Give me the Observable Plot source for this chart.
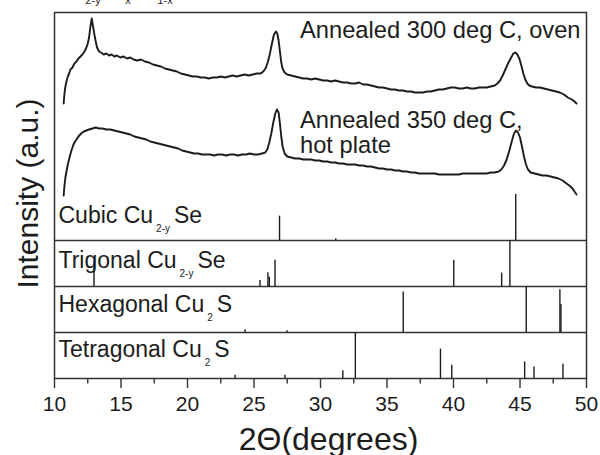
<!DOCTYPE html>
<html>
<head>
<meta charset="utf-8">
<script src="https://cdn.jsdelivr.net/npm/d3@7"></script>
<script src="https://cdn.jsdelivr.net/npm/@observablehq/plot@0.6"></script>
<style>
  body { margin: 0; background: white; }
  #chart svg { display: block; }
</style>
</head>
<body>
<div id="chart"></div>
<script>
// ---------------- data ----------------
const xTicks = [10, 15, 20, 25, 30, 35, 40, 45, 50];
const xMinor = [12.5, 17.5, 22.5, 27.5, 32.5, 37.5, 42.5, 47.5];

// measured pattern: annealed 300 deg C, oven  [2theta, intensity a.u.]
const ovenPattern = [
  [10.69,275],[10.75,285],[10.82,292],[10.9,297],[11.0,302],[11.1,305],[11.2,309],[11.35,311],
  [11.5,315],[11.65,317],[11.8,320],[11.95,322],[12.1,324],[12.25,327],[12.4,331],[12.5,335],
  [12.6,341],[12.7,352],[12.8,360],[12.9,352],[13.0,344],[13.1,337],[13.2,331],[13.35,327],
  [13.5,326],[13.7,324],[13.9,325],[14.1,323],[14.3,324],[14.5,322],[14.7,323],[14.95,321],
  [15.2,322],[15.45,320],[15.7,321],[15.95,319],[16.2,318],[16.5,319],[16.8,317],[17.1,316],
  [17.4,314],[17.7,313],[18.0,312],[18.3,310],[18.6,309],[18.9,308],[19.2,307],[19.5,305],
  [19.8,304],[20.1,303],[20.4,302],[20.7,302],[21.0,301],[21.3,301],[21.6,300],[21.9,301],
  [22.2,301],[22.5,302],[22.8,301],[23.1,302],[23.4,303],[23.7,302],[24.0,303],[24.3,304],
  [24.6,303],[24.9,304],[25.2,305],[25.5,305],[25.7,307],[25.9,311],[26.05,317],[26.2,325],
  [26.35,335],[26.5,344],[26.65,347],[26.75,345],[26.85,338],[26.95,327],[27.05,316],[27.15,310],
  [27.3,306],[27.5,304],[27.8,303],[28.1,302],[28.4,301],[28.7,300],[29.0,300],[29.3,299],
  [29.6,300],[29.9,299],[30.2,298],[30.5,298],[30.8,297],[31.1,298],[31.4,297],[31.7,296],
  [32.0,296],[32.3,295],[32.6,295],[32.9,296],[33.2,294],[33.5,294],[33.8,293],[34.1,292],
  [34.4,291],[34.7,291],[35.0,290],[35.3,289],[35.6,289],[35.9,288],[36.2,288],[36.5,287],
  [36.8,287],[37.1,286],[37.4,286],[37.7,286],[38.0,287],[38.3,287],[38.6,288],[38.9,289],
  [39.2,289],[39.5,290],[39.8,291],[40.1,291],[40.4,290],[40.7,290],[41.0,291],[41.3,290],
  [41.6,290],[41.9,291],[42.2,291],[42.5,291],[42.8,292],[43.1,293],[43.3,295],[43.5,298],
  [43.7,303],[43.9,309],[44.1,315],[44.3,320],[44.5,325],[44.65,326],[44.8,324],[44.95,320],
  [45.1,313],[45.25,305],[45.4,299],[45.55,295],[45.7,293],[45.9,292],[46.2,291],[46.5,291],
  [46.8,290],[47.1,289],[47.4,288],[47.7,287],[48.0,286],[48.3,284],[48.6,281],[48.9,279],
  [49.1,277],[49.25,275]
];

// measured pattern: annealed 350 deg C, hot plate
const hotPlatePattern = [
  [10.69,183],[10.75,193],[10.82,201],[10.9,207],[11.0,214],[11.13,221],[11.25,227],[11.4,233],
  [11.5,236],[11.65,239],[11.8,242],[12.0,245],[12.2,247],[12.4,248],[12.6,249],[12.85,250],
  [13.1,251],[13.35,250],[13.6,250],[13.9,249],[14.2,249],[14.5,248],[14.8,247],[15.1,246],
  [15.4,245],[15.7,244],[16.0,242],[16.3,241],[16.6,240],[16.9,239],[17.2,237],[17.5,236],
  [17.8,235],[18.1,234],[18.4,233],[18.7,232],[19.0,231],[19.3,230],[19.6,228],[19.9,227],
  [20.2,226],[20.5,225],[20.8,225],[21.1,224],[21.4,224],[21.7,224],[22.0,223],[22.3,224],
  [22.6,224],[22.9,223],[23.2,224],[23.5,224],[23.8,223],[24.1,224],[24.4,224],[24.7,225],
  [25.0,224],[25.3,224],[25.6,225],[25.85,226],[26.0,229],[26.15,236],[26.3,245],[26.45,256],
  [26.6,265],[26.72,269],[26.85,266],[26.95,255],[27.05,242],[27.15,232],[27.3,225],[27.5,222],
  [27.8,221],[28.1,220],[28.4,220],[28.7,219],[29.0,219],[29.3,219],[29.6,218],[29.9,218],
  [30.2,217],[30.5,217],[30.8,216],[31.1,216],[31.4,215],[31.7,215],[32.0,214],[32.3,214],
  [32.6,214],[32.9,213],[33.2,213],[33.5,212],[33.8,212],[34.1,211],[34.4,210],[34.7,210],
  [35.0,209],[35.3,209],[35.6,208],[35.9,208],[36.2,207],[36.5,207],[36.8,206],[37.1,206],
  [37.4,205],[37.7,205],[38.0,205],[38.3,205],[38.6,205],[38.9,204],[39.2,204],[39.5,204],
  [39.8,204],[40.1,204],[40.4,204],[40.7,205],[41.0,205],[41.3,205],[41.6,205],[41.9,205],
  [42.2,205],[42.5,205],[42.8,206],[43.1,206],[43.4,207],[43.6,209],[43.8,213],[44.0,219],
  [44.2,228],[44.4,238],[44.55,245],[44.7,248],[44.85,246],[45.0,241],[45.15,232],[45.3,222],
  [45.45,214],[45.6,209],[45.8,206],[46.1,205],[46.4,204],[46.7,203],[47.0,203],[47.3,202],
  [47.6,201],[47.9,200],[48.2,198],[48.5,195],[48.8,192],[49.0,189],[49.15,186],[49.25,184]
];

// reference stick patterns (2theta, relative intensity)
const cubicPos = [26.92, 31.15, 44.68];
const cubicRel = [0.53, 0.04, 1.0];
const trigonalPos = [12.97, 25.45, 26.05, 26.15, 26.58, 40.02, 43.62, 44.24];
const trigonalRel = [0.57, 0.13, 0.30, 0.20, 0.57, 0.57, 0.29, 1.0];
const hexagonalPos = [24.33, 27.48, 36.22, 45.47, 48.0, 48.08];
const hexagonalRel = [0.06, 0.04, 0.88, 1.0, 0.93, 0.61];
const tetragonalPos = [23.58, 27.33, 31.68, 32.62, 39.02, 39.87, 45.35, 46.05, 48.23];
const tetragonalRel = [0.07, 0.07, 0.17, 1.0, 0.64, 0.29, 0.36, 0.25, 0.31];

const phaseNames = ["Cubic Cu_{2-y}Se", "Trigonal Cu_{2-y}Se", "Hexagonal Cu_{2}S", "Tetragonal Cu_{2}S"];
const phaseBase = [138, 92, 46, 0];      // stacking offsets (a.u.)
const phaseLabelY = [156, 111, 67, 22];  // label offsets (a.u.)
const panelScale = 46;                   // a.u. for a 100% stick

const sampleLabels = ["Annealed 300 deg C, oven", "Annealed 350 deg C,", "hot plate"];
const sampleLabelY = [341, 251, 226];

// ---------------- build tables ----------------
const phases = [
  [cubicPos, cubicRel], [trigonalPos, trigonalRel],
  [hexagonalPos, hexagonalRel], [tetragonalPos, tetragonalRel]
];
const sticks = phases.flatMap(([pos, rel], p) =>
  pos.map((x, i) => ({x, y1: phaseBase[p], y2: phaseBase[p] + rel[i] * panelScale})));
const curves = [
  ...ovenPattern.map(([x, y]) => ({x, y, s: "oven"})),
  ...hotPlatePattern.map(([x, y]) => ({x, y, s: "hot"}))
];
const phaseLabelData = phaseNames.map((t, i) => ({t, y: phaseLabelY[i]}));
const sampleLabelData = sampleLabels.map((t, i) => ({t, y: sampleLabelY[i]}));

const FONT = "'Liberation Sans', Arial, sans-serif";
const INK = "#1c1c1c";

const plot = Plot.plot({
  width: 600,
  height: 455,
  marginLeft: 54,
  marginRight: 14,
  marginTop: 12,
  marginBottom: 77,
  style: {fontFamily: FONT, color: INK, background: "white"},
  x: {domain: [10, 50], axis: null},
  y: {domain: [0, 366], axis: null},
  marks: [
    Plot.ruleY(phaseBase.slice(0, 3), {stroke: "#333", strokeWidth: 1.5}),
    Plot.ruleX(sticks, {x: "x", y1: "y1", y2: "y2", stroke: INK, strokeWidth: 1.4}),
    Plot.line(curves, {x: "x", y: "y", z: "s", stroke: INK, strokeWidth: 1.9, curve: "linear"}),
    Plot.frame({stroke: "#333", strokeWidth: 1.5}),
    Plot.axisX(xTicks, {tickSize: 10, tickPadding: 8, fontSize: 21, label: null, stroke: "#333", strokeWidth: 1.4}),
    Plot.axisX(xMinor, {tickSize: 5.5, tickFormat: () => "", label: null, stroke: "#333", strokeWidth: 1.4}),
    Plot.text(phaseLabelData, {x: 10, y: "y", text: "t", dx: 4, textAnchor: "start", lineAnchor: "bottom", fontSize: 23, fill: INK}),
    Plot.text(sampleLabelData, {x: 28.46, y: "y", text: "t", textAnchor: "start", lineAnchor: "bottom", fontSize: 23.7, fill: INK}),
    Plot.text(["2\u0398(degrees)"], {frameAnchor: "bottom", dy: 71, dx: 8, lineAnchor: "bottom", fontSize: 32, fill: INK}),
    Plot.text(["Intensity (a.u.)"], {frameAnchor: "left", rotate: -90, dx: -17, dy: -2, textAnchor: "middle", lineAnchor: "bottom", fontSize: 30, fill: INK})
  ]
});

// subscripts: "_{...}" → tspans
plot.querySelectorAll("text").forEach(t => {
  const s = t.textContent;
  if (!s.includes("_{")) return;
  const parts = s.split(/_\{([^}]*)\}/);
  t.textContent = "";
  const NS = "http://www.w3.org/2000/svg";
  parts.forEach((p, i) => {
    const ts = document.createElementNS(NS, "tspan");
    ts.textContent = p;
    if (i % 2 === 1) {
      ts.setAttribute("font-size", "10");
      ts.setAttribute("dx", "3");
      ts.setAttribute("dy", "9.5");
    } else if (i > 0) {
      ts.setAttribute("dx", "4");
      ts.setAttribute("dy", "-9.5");
    }
    t.appendChild(ts);
  });
});

// partially visible caption clipped at the top edge
{
  const svg = d3.select(plot);
  const title = svg.append("text").attr("font-family", FONT).attr("fill", INK).attr("font-size", 14);
  const pieces = [
    ["Cu", 72, -6, 14], ["2-y", 93, 4, 11], ["Se", 109, -6, 13],
    ["x", 128, 4, 11], ["S", 140, -6, 14], ["1-x", 165, 4, 11]
  ];
  pieces.forEach(([txt, x, y, fs]) => title.append("tspan").attr("x", x).attr("y", y).attr("font-size", fs).text(txt));
}

document.getElementById("chart").appendChild(plot);
</script>
</body>
</html>
